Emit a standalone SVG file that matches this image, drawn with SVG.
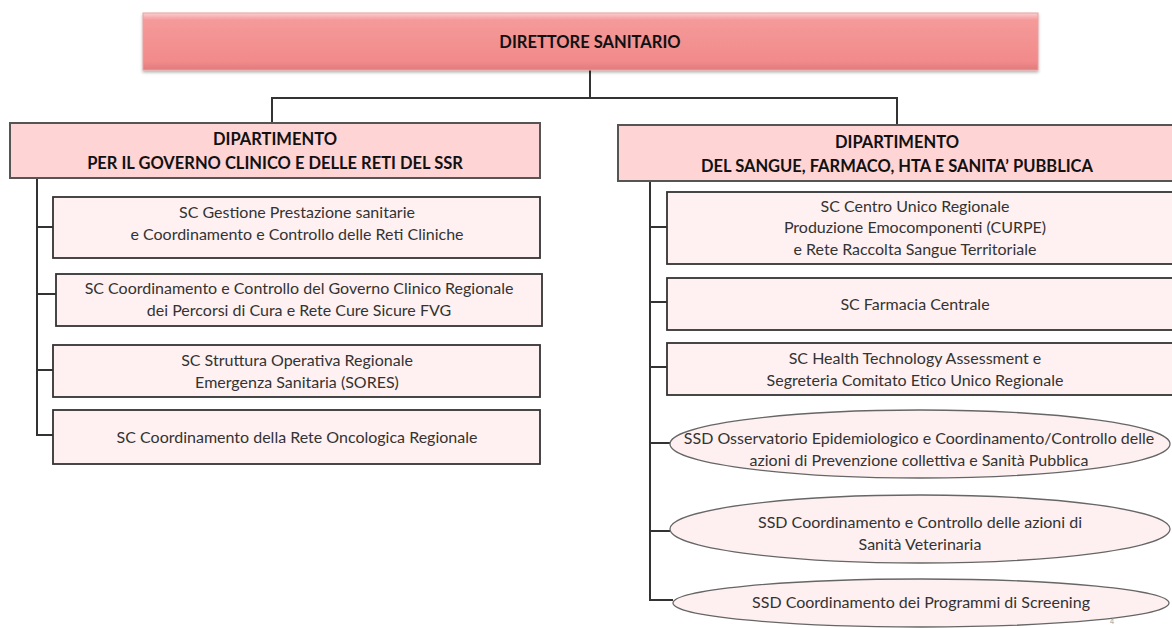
<svg xmlns="http://www.w3.org/2000/svg" width="1172" height="628" viewBox="0 0 1172 628">
<defs>
<linearGradient id="gTop" x1="0" y1="0" x2="0" y2="1">
<stop offset="0" stop-color="#FCD0D0"/>
<stop offset="0.12" stop-color="#F59A9A"/>
<stop offset="0.85" stop-color="#F28A8A"/>
<stop offset="1" stop-color="#E07C7C"/>
</linearGradient>
<filter id="sh" x="-5%" y="-20%" width="110%" height="150%">
<feDropShadow dx="0" dy="2" stdDeviation="1.5" flood-color="#000" flood-opacity="0.3"/>
</filter>
</defs>
<style>
text{font-family:"Lato","Open Sans","Liberation Sans",sans-serif;fill:#333;text-anchor:middle}
.b{font-weight:bold;fill:#111;font-size:16.5px}
.t{font-size:16px}
.dept{fill:#FFD4D4;stroke:#555;stroke-width:2}
.box{fill:#FFF1F1;stroke:#333;stroke-width:1.8}
.ell{fill:#FEF0F0;stroke:#666;stroke-width:1.3}
.c{fill:none;stroke:#333;stroke-width:2}
</style>
<rect width="1172" height="628" fill="#fff"/>
<g id="connectors">
<path class="c" d="M590 70V98M272 123V98H897V125"/>
<path class="c" d="M37 179V435H53M37 227H53M37 294H56M37 370H53"/>
<path class="c" d="M650 182V600H673M650 227H667M650 302H667M650 367H667M650 443H670M650 531H670"/>
</g>
<g id="direttore">
<rect x="143" y="13" width="895" height="57" fill="url(#gTop)" stroke="#E8A0A0" stroke-width="1" filter="url(#sh)"/>
<text class="b" x="590" y="48">DIRETTORE SANITARIO</text>
</g>
<g id="dip-governo">
<rect class="dept" x="10" y="123" width="530" height="55"/>
<text class="b" x="275" y="145">DIPARTIMENTO</text>
<text class="b" x="275" y="169">PER IL GOVERNO CLINICO E DELLE RETI DEL SSR</text>
</g>
<g id="dip-sangue">
<rect class="dept" x="618" y="125" width="560" height="56"/>
<text class="b" x="897" y="148">DIPARTIMENTO</text>
<text class="b" x="897" y="172">DEL SANGUE, FARMACO, HTA E SANITA’ PUBBLICA</text>
</g>
<g id="sc-gestione">
<rect class="box" x="53" y="197" width="487" height="61"/>
<text class="t" x="297" y="218">SC Gestione Prestazione sanitarie</text>
<text class="t" x="297" y="240">e Coordinamento e Controllo delle  Reti Cliniche</text>
</g>
<g id="sc-governo-clinico">
<rect class="box" x="56" y="274" width="486" height="52"/>
<text class="t" x="299" y="294">SC Coordinamento e Controllo del Governo Clinico Regionale</text>
<text class="t" x="299" y="316">dei  Percorsi di Cura e Rete  Cure Sicure FVG</text>
</g>
<g id="sc-sores">
<rect class="box" x="53" y="345" width="487" height="52" stroke="#555"/>
<text class="t" x="297" y="366">SC Struttura Operativa Regionale</text>
<text class="t" x="297" y="388">Emergenza Sanitaria (SORES)</text>
</g>
<g id="sc-oncologica">
<rect class="box" x="53" y="410" width="487" height="54"/>
<text class="t" x="297" y="443">SC Coordinamento della Rete Oncologica Regionale</text>
</g>
<g id="sc-curpe">
<rect class="box" x="667" y="192" width="510" height="72"/>
<text class="t" x="915" y="212">SC Centro Unico Regionale</text>
<text class="t" x="915" y="233">Produzione Emocomponenti (CURPE)</text>
<text class="t" x="915" y="255">e Rete Raccolta Sangue Territoriale</text>
</g>
<g id="sc-farmacia">
<rect class="box" x="667" y="278" width="510" height="52" stroke="#555"/>
<text class="t" x="915" y="310">SC Farmacia Centrale</text>
</g>
<g id="sc-hta">
<rect class="box" x="667" y="343" width="510" height="52"/>
<text class="t" x="915" y="364">SC Health Technology Assessment e</text>
<text class="t" x="915" y="386">Segreteria Comitato Etico Unico Regionale</text>
</g>
<g id="ssd-osservatorio">
<ellipse class="ell" cx="920" cy="444" rx="250" ry="34"/>
<text class="t" x="919" y="444">SSD Osservatorio Epidemiologico e  Coordinamento/Controllo delle</text>
<text class="t" x="919" y="466">azioni di Prevenzione collettiva e Sanità Pubblica</text>
</g>
<g id="ssd-veterinaria">
<ellipse class="ell" cx="920" cy="529" rx="250" ry="34"/>
<text class="t" x="920" y="528">SSD Coordinamento e Controllo delle azioni di</text>
<text class="t" x="920" y="550">Sanità Veterinaria</text>
</g>
<g id="ssd-screening">
<ellipse class="ell" cx="921" cy="603" rx="248" ry="24"/>
<text class="t" x="921" y="608">SSD Coordinamento dei Programmi di Screening</text>
</g>
<text x="1112" y="624" style="font-size:7px;fill:#999">4</text>
</svg>
